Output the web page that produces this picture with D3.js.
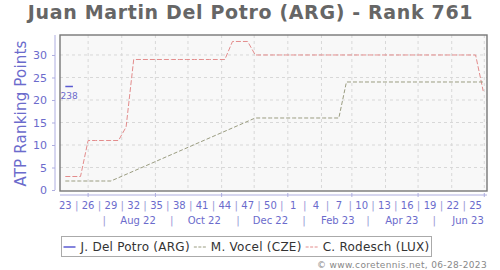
<!DOCTYPE html>
<html>
<head>
<meta charset="utf-8">
<script src="https://cdn.jsdelivr.net/npm/d3@7"></script>
<style>
  body { margin: 0; background: #fff; }
  svg { display: block; font-family: 'DejaVu Sans', sans-serif; }
</style>
</head>
<body>
<div id="chart"></div>
<script>
// ISO week numbers, one entry per weekly ranking (Jun 2022 - Jul 2023)
const weeks = [23, 24, 25, 26, 27, 28, 29, 30, 31, 32, 33, 34, 35, 36, 37, 38, 39, 40, 41, 42,
  43, 44, 45, 46, 47, 48, 49, 50, 51, 52, 1, 2, 3, 4, 5, 6, 7, 8, 9, 10,
  11, 12, 13, 14, 15, 16, 17, 18, 19, 20, 21, 22, 23, 24, 25, 26];

const delPotro = [23, 23, null, null, null, null, null, null, null, null, null, null, null, null, null, null, null, null, null, null,
  null, null, null, null, null, null, null, null, null, null, null, null, null, null, null, null, null, null, null, null,
  null, null, null, null, null, null, null, null, null, null, null, null, null, null, null, null];
const vocel = [2, 2, 2, 2, 2, 2, 2, null, null, null, null, null, null, null, null, null, null, null, null, null,
  null, null, null, null, null, 16, 16, 16, 16, 16, 16, 16, 16, 16, 16, 16, 16, 24, 24, 24,
  24, 24, 24, 24, 24, 24, 24, 24, 24, 24, 24, 24, 24, 24, 24, 24];
const rodesch = [3, 3, 3, 11, 11, 11, 11, 11, 14, 29, 29, 29, 29, 29, 29, 29, 29, 29, 29, 29,
  29, 29, 33, 33, 33, 30, 30, 30, 30, 30, 30, 30, 30, 30, 30, 30, 30, 30, 30, 30,
  30, 30, 30, 30, 30, 30, 30, 30, 30, 30, 30, 30, 30, 30, 30, 22];

const delPotroLabel = '238';
const yTicks = [0, 5, 10, 15, 20, 25, 30];
const monthLabels = ['Aug 22', 'Oct 22', 'Dec 22', 'Feb 23', 'Apr 23', 'Jun 23'];

const series = [
  { name: 'J. Del Potro (ARG)', values: delPotro, color: '#5b5bd2', dash: null, width: 1.5 },
  { name: 'M. Vocel (CZE)', values: vocel, color: '#9a9c80', dash: '4,2', width: 1 },
  { name: 'C. Rodesch (LUX)', values: rodesch, color: '#e38c8c', dash: '5,2', width: 1 },
];

const W = 500, H = 270;
const plot = { l: 60, r: 487, t: 35, b: 191 };
const axisBlue = '#6b6bcc';
const axisLine = '#aeaee0';

const day = 864e5;
const firstWeek = Date.UTC(2022, 5, 10);
const weekDate = (i) => new Date(firstWeek + i * 7 * day);

const svg = d3.select('#chart').append('svg').attr('width', W).attr('height', H);

const x = d3.scaleUtc().domain([weekDate(-0.7), weekDate(55.5)]).range([plot.l, plot.r]);
const y = d3.scaleLinear().domain([-0.22, 34.44]).range([plot.b, plot.t]);

// title
svg.append('text')
  .attr('x', W / 2 + 0.5).attr('y', 19)
  .attr('text-anchor', 'middle')
  .attr('font-size', 19).attr('font-weight', 'bold')
  .attr('letter-spacing', 0.65)
  .attr('fill', '#666')
  .text('Juan Martin Del Potro (ARG) - Rank 761');

// plot background
svg.append('rect')
  .attr('x', plot.l).attr('y', plot.t)
  .attr('width', plot.r - plot.l).attr('height', plot.b - plot.t)
  .attr('fill', '#f8f8f8');

// grid
const monthStarts = d3.utcMonth.range(new Date(Date.UTC(2022, 6, 1)), new Date(Date.UTC(2023, 6, 2)));
svg.append('g')
  .selectAll('line')
  .data(monthStarts)
  .join('line')
  .attr('x1', (d) => x(d)).attr('x2', (d) => x(d))
  .attr('y1', plot.t).attr('y2', plot.b)
  .attr('stroke', '#d8d8d8').attr('stroke-dasharray', '3,3');

svg.append('g')
  .selectAll('line')
  .data(yTicks.slice(1))
  .join('line')
  .attr('x1', plot.l).attr('x2', plot.r)
  .attr('y1', (d) => y(d)).attr('y2', (d) => y(d))
  .attr('stroke', '#d8d8d8').attr('stroke-dasharray', '3,3');

// series lines (gaps are bridged, as in the original)
svg.append('clipPath').attr('id', 'clip').append('rect')
  .attr('x', plot.l).attr('y', plot.t)
  .attr('width', plot.r - plot.l).attr('height', plot.b - plot.t);

const line = d3.line()
  .x((d) => x(weekDate(d.i)))
  .y((d) => y(d.v));

series.slice().reverse().forEach((s) => {
  const pts = s.values.map((v, i) => ({ i, v })).filter((d) => d.v != null);
  svg.append('path')
    .datum(pts)
    .attr('clip-path', 'url(#clip)')
    .attr('fill', 'none')
    .attr('stroke', s.color)
    .attr('stroke-width', s.width)
    .attr('stroke-dasharray', s.dash)
    .attr('d', line);
});

// label under the Del Potro segment
const dpPts = delPotro.map((v, i) => ({ i, v })).filter((d) => d.v != null);
svg.append('text')
  .attr('x', d3.mean(dpPts, (d) => x(weekDate(d.i))))
  .attr('y', y(dpPts[0].v) + 12.5)
  .attr('text-anchor', 'middle')
  .attr('font-size', 9)
  .attr('fill', axisBlue)
  .text(delPotroLabel);

// plot frame
svg.append('rect')
  .attr('x', plot.l).attr('y', plot.t)
  .attr('width', plot.r - plot.l).attr('height', plot.b - plot.t)
  .attr('fill', 'none').attr('stroke', '#777').attr('stroke-width', 1.4);

// y axis
const yAxis = svg.append('g')
  .attr('transform', 'translate(55,0)')
  .call(d3.axisLeft(y).tickValues(yTicks).tickSize(3).tickSizeOuter(0).tickPadding(5));
yAxis.select('.domain').attr('stroke', axisLine).attr('d', `M0,${plot.t}V${y(0)}`);
yAxis.selectAll('.tick line').attr('stroke', axisLine);
yAxis.selectAll('text').attr('fill', axisBlue).attr('font-size', 11).attr('font-family', 'DejaVu Sans');

svg.append('text')
  .attr('transform', `translate(26,${(plot.t + plot.b) / 2 + 0.5}) rotate(-90)`)
  .attr('text-anchor', 'middle')
  .attr('font-size', 15)
  .attr('letter-spacing', 0.2)
  .attr('fill', axisBlue)
  .text('ATP Ranking Points');

// x axis
const xAxis = svg.append('g').attr('transform', 'translate(0,195)');
xAxis.append('line')
  .attr('x1', plot.l).attr('x2', plot.r)
  .attr('stroke', axisLine);

const oddMonths = monthStarts.filter((d) => d.getUTCMonth() % 2 === 0);
xAxis.selectAll('.mtick')
  .data(oddMonths)
  .join('line')
  .attr('class', 'mtick')
  .attr('x1', (d) => x(d)).attr('x2', (d) => x(d))
  .attr('y1', -2).attr('y2', 2)
  .attr('stroke', axisLine);

const weekIdx = weeks.map((w, i) => i).filter((i) => i % 3 === 0 && i < 55);
xAxis.selectAll('.wlab')
  .data(weekIdx)
  .join('text')
  .attr('class', 'wlab')
  .attr('x', (i) => x(weekDate(i)))
  .attr('y', 13.5)
  .attr('text-anchor', 'middle')
  .attr('font-size', 10)
  .attr('fill', axisBlue)
  .text((i) => weeks[i]);

xAxis.selectAll('.wsep')
  .data(weekIdx.slice(0, -1))
  .join('text')
  .attr('class', 'wsep')
  .attr('x', (i) => x(weekDate(i + 1.5)))
  .attr('y', 13.5)
  .attr('text-anchor', 'middle')
  .attr('font-size', 10.5)
  .attr('fill', '#9a9ad8')
  .text('|');

const labelDates = monthLabels.map((m, k) => new Date(Date.UTC(2022, 7 + 2 * k, 16)));
xAxis.selectAll('.mlab')
  .data(monthLabels)
  .join('text')
  .attr('class', 'mlab')
  .attr('x', (m, k) => x(labelDates[k]))
  .attr('y', 29)
  .attr('text-anchor', 'middle')
  .attr('font-size', 10)
  .attr('fill', axisBlue)
  .text((m) => m);

xAxis.selectAll('.msep')
  .data(monthLabels)
  .join('text')
  .attr('class', 'msep')
  .attr('x', (m, k) => x(new Date(Date.UTC(2022, 6 + 2 * k, 16))))
  .attr('y', 29)
  .attr('text-anchor', 'middle')
  .attr('font-size', 10.5)
  .attr('fill', '#9a9ad8')
  .text('|');

// legend
const legend = svg.append('g');
const legendBox = legend.append('rect')
  .attr('x', 61.5).attr('y', 236.5).attr('height', 20)
  .attr('fill', '#fff').attr('stroke', '#aaa');
let lx = 63.5;
series.forEach((s) => {
  legend.append('line')
    .attr('x1', lx).attr('x2', lx + 12)
    .attr('y1', 247).attr('y2', 247)
    .attr('stroke', s.color).attr('stroke-width', s.width)
    .attr('stroke-dasharray', s.dash ? '3,1.5' : null);
  const t = legend.append('text')
    .attr('x', lx + 17).attr('y', 251)
    .attr('font-size', 12)
    .attr('letter-spacing', 0.25)
    .attr('fill', '#333')
    .text(s.name);
  lx += 17 + t.node().getComputedTextLength() + 4;
});
legendBox.attr('width', lx - 61.5 - 2);

svg.append('text')
  .attr('x', 487).attr('y', 267.5)
  .attr('text-anchor', 'end')
  .attr('font-size', 9)
  .attr('letter-spacing', 0.35)
  .attr('fill', '#888')
  .text('\u00a9 www.coretennis.net, 06-28-2023');
</script>
</body>
</html>
